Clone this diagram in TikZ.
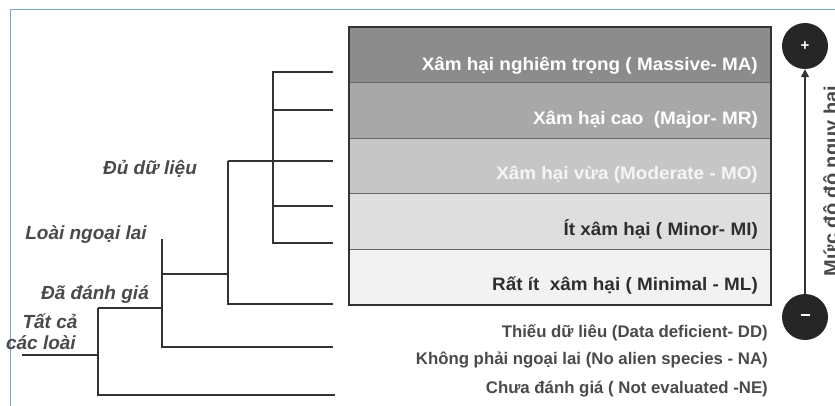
\documentclass[tikz,border=0pt]{standalone}
\usepackage{fontspec}
\setmainfont{Liberation Sans}
\newfontfamily\bandfont[FakeStretch=1.05]{Liberation Sans}
\usetikzlibrary{arrows.meta}
\definecolor{lineC}{HTML}{333333}
\definecolor{frameblue}{HTML}{7FA6D8}
\definecolor{bandA}{HTML}{8C8C8C}
\definecolor{bandB}{HTML}{A8A8A8}
\definecolor{bandC}{HTML}{C6C6C6}
\definecolor{bandD}{HTML}{DEDEDE}
\definecolor{bandE}{HTML}{F2F2F2}
\definecolor{txtdark}{HTML}{2E2E2E}
\definecolor{txtgray}{HTML}{4A4A4A}
\definecolor{circC}{HTML}{262626}
\tikzset{
  tree/.style={draw=lineC, line width=1.8pt},
  band/.style={draw=black!60, line width=0.8pt, anchor=north west, minimum width=421pt, minimum height=55.4pt, inner sep=0pt},
  bandtxt/.style={anchor=base east, font=\bandfont\bfseries\fontsize{18}{20}\selectfont, inner sep=0pt},
  lowtxt/.style={anchor=base east, font=\bfseries\fontsize{16.8}{18}\selectfont, text=txtgray, inner sep=0pt},
  treelab/.style={font=\bfseries\itshape\fontsize{19}{21}\selectfont, text=txtgray, inner sep=0pt, anchor=base},
  sign/.style={circle, fill=circC, minimum size=46pt, inner sep=0pt, text=white, font=\bfseries\fontsize{15}{15}\selectfont},
}
\begin{document}
\begin{tikzpicture}[x=1pt,y=-1pt]
\useasboundingbox (0,0) rectangle (835,406);
\clip (0,0) rectangle (835,406);
\fill[white] (0,0) rectangle (835,406);
\draw[frameblue, line width=1pt] (835,10) -- (10,10) -- (10,406);

% bands
\node[band, fill=bandA] (b1) at (349,27) {};
\node[band, fill=bandB] (b2) at (349,82.4) {};
\node[band, fill=bandC] (b3) at (349,137.8) {};
\node[band, fill=bandD] (b4) at (349,193.2) {};
\node[band, fill=bandE] (b5) at (349,248.6) {};
\draw[lineC, line width=2.4pt] (b1.north west) rectangle (b5.south east);

\node[bandtxt, text=white] (t1) at (758,71) {Xâm hại nghiêm trọng ( Massive- MA)};
\node[bandtxt, text=white] (t2) at (758,125) {Xâm hại cao~ (Major- MR)};
\node[bandtxt, text=white!96!black] (t3) at (758,180) {Xâm hại vừa (Moderate - MO)};
\node[bandtxt, text=txtdark] (t4) at (758,235) {Ít xâm hại ( Minor- MI)};
\node[bandtxt, text=txtdark] (t5) at (758,290) {Rất ít~ xâm hại ( Minimal - ML)};

\node[lowtxt] (dd) at (768,337) {Thiếu dữ liêu (Data deficient- DD)};
\node[lowtxt] (na) at (768,364) {Không phải ngoại lai (No alien species - NA)};
\node[lowtxt] (ne) at (768,393) {Chưa đánh giá ( Not evaluated -NE)};

% tree coordinates
\coordinate (r1) at (333,72);
\coordinate (r2) at (333,110);
\coordinate (r3) at (333,161);
\coordinate (r4) at (333,206);
\coordinate (r5) at (333,243);
\coordinate (r6) at (333,304);
\coordinate (r7) at (333,347);
\coordinate (r8) at (335,395);
\coordinate (v1t) at (273,72);
\coordinate (v1b) at (273,243);
\coordinate (v2t) at (228,161);
\coordinate (v2b) at (228,304);
\coordinate (v3t) at (162,239);
\coordinate (v3m) at (162,274);
\coordinate (v3b) at (162,347);
\coordinate (v3j) at (162,308);
\coordinate (v4t) at (98,308);
\coordinate (v4m) at (98,355);
\coordinate (v4b) at (98,395);
\coordinate (root) at (22,355);

\draw[tree] (r1) -- (v1t) -- (v1b) -- (r5);
\draw[tree] (273,110) -- (r2);
\draw[tree] (273,206) -- (r4);
\draw[tree] (v2t) -- (r3);
\draw[tree] (v2t) -- (v2b) -- (r6);
\draw[tree] (v3m) -- (228,274);
\draw[tree] (v3t) -- (v3b) -- (r7);
\draw[tree] (v4t) -- (v3j);
\draw[tree] (v4t) -- (v4b) -- (r8);
\draw[tree] (root) -- (v4m);

\node[treelab] (l1) at (150,175) {Đủ dữ liệu};
\node[treelab] (l2) at (86,239) {Loài ngoại lai};
\node[treelab] (l3) at (95,299) {Đã đánh giá};
\node[treelab] (l4) at (50,328) {Tất cả};
\node[treelab, anchor=base east] (l5) at (76,349) {các loài};

% scale
\node[sign] (plus) at (805,46) {+};
\node[sign] (minus) at (805,317) {\rule[0.28em]{0.6em}{0.12em}};
\draw[lineC, line width=1.6pt, -{Triangle[length=8pt,width=8pt]}] (minus.north) -- (plus.south);
\node[rotate=90, anchor=base, font=\bfseries\fontsize{20}{22}\selectfont, text=txtgray, inner sep=0pt] (axis) at (838,181) {Mức độ độ nguy hại};
\end{tikzpicture}
\end{document}
